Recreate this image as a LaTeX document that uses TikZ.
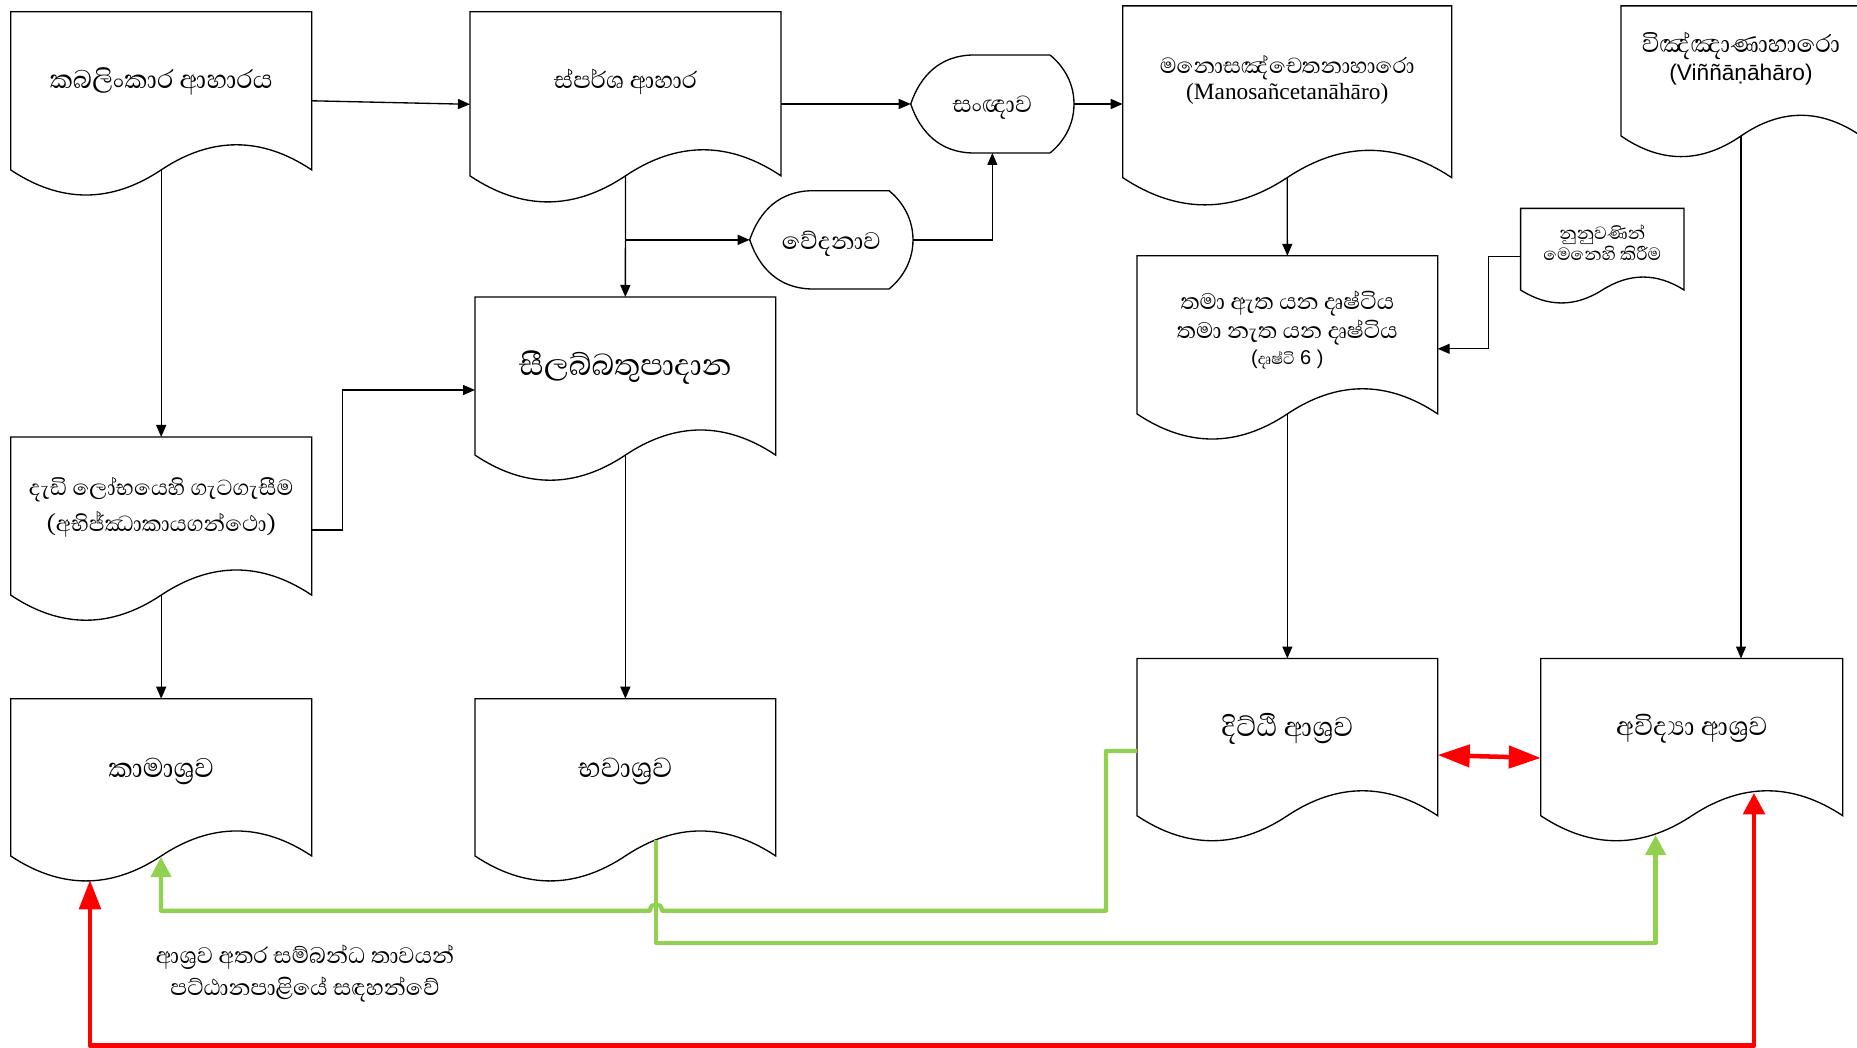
\documentclass[tikz,border=0pt]{standalone}
\usepackage{fontspec}
\usetikzlibrary{arrows.meta,calc}
\newfontfamily\sinf[Script=Sinhala]{Abhaya Libre}
\newfontfamily\lsans{Liberation Sans}
\newfontfamily\lserif{Liberation Serif}
\definecolor{grn}{HTML}{92D050}
\definecolor{rd}{HTML}{FF0000}
\newcommand\fs[2]{\fontsize{#1}{#2}\selectfont}
\tikzset{
  docline/.style={draw=black, line width=1pt, fill=white},
  geom/.style={draw=none, inner sep=0pt, outer sep=0pt},
  lbl/.style={align=center, inner sep=0pt},
  conn/.style={draw=black, line width=1pt, -{Triangle[length=9pt,width=7.5pt]}},
  gline/.style={draw=grn, line width=3.2pt, line join=round, -{Triangle[length=15pt,width=15pt]}},
  rline/.style={draw=rd, line width=3.4pt, line join=round},
}
% name, left, top, width, height, text offset, font, text
\newcommand\docbox[8]{%
  \node[geom, minimum width=#4*0.75pt, minimum height=#5*0.75pt] (#1) at ({#2+#4/2},{#3+#5/2}) {};
  \coordinate (#1-w) at ({#2+#4/2},{#3+0.85*#5});
  \path[docline] (#2,#3) -- ({#2+#4},#3) -- ({#2+#4},{#3+0.85*#5})
     .. controls ({#2+0.8333*#4},{#3+0.67*#5}) and ({#2+0.6667*#4},{#3+0.67*#5}) .. ({#2+0.5*#4},{#3+0.85*#5})
     .. controls ({#2+0.3333*#4},{#3+1.03*#5}) and ({#2+0.1667*#4},{#3+1.03*#5}) .. (#2,{#3+0.85*#5}) -- cycle;
  \node[lbl, font=#7] (#1-t) at ({#2+#4/2},{#3+#6}) {#8};
}
% name, L, T, R, B, font, text
\newcommand\dispbox[7]{%
  \node[geom, minimum width=(#4-#2)*0.75pt, minimum height=(#5-#3)*0.75pt] (#1) at ({(#2+#4)/2},{(#3+#5)/2}) {};
  \path[docline] ({#2+61},#3) -- ({#4-24},#3)
     .. controls ({#4-14},{#3+8}) and (#4,{#3+0.25*(#5-#3)}) .. (#4,{(#3+#5)/2})
     .. controls (#4,{#5-0.25*(#5-#3)}) and ({#4-14},{#5-8}) .. ({#4-24},#5)
     -- ({#2+61},#5)
     .. controls ({#2+30},{#5-1}) and ({#2+10},{#5-0.2*(#5-#3)}) .. (#2,{(#3+#5)/2})
     .. controls ({#2+10},{#3+0.2*(#5-#3)}) and ({#2+30},{#3+1}) .. ({#2+61},#3) -- cycle;
  \node[lbl, font=#6] (#1-t) at ({(#2+#4)/2},{(#3+#5)/2+4}) {#7};
}
\begin{document}
\begin{tikzpicture}[x=0.75pt,y=-0.75pt]
\useasboundingbox (0,0) rectangle (1857,1048);
\clip (0,0) rectangle (1857,1048);
\fill[white] (0,0) rectangle (1857,1048);

\docbox{kab}{10.7}{11.8}{301}{186}{69.5}{\sinf\fs{24.5}{28}}{කබලිංකාර ආහාරය}
\docbox{spar}{470}{11.8}{311}{193}{70.5}{\sinf\fs{22.5}{28}}{ස්පර්ශ ආහාර}
\docbox{manos}{1122.7}{5.9}{329}{202}{74}{\sinf\fs{21}{20}}{මනොසඤ්චෙතනාහාරො\\{\lserif\fs{17.5}{20}(Manosañcetanāhāro)}}
\docbox{vinn}{1621}{5.9}{240}{153}{53}{\sinf\fs{23.5}{21}}{විඤ්ඤාණාහාරො\\{\lsans\fs{17}{20}(Viññāṇāhāro)}}
\docbox{thama}{1137}{255.8}{300.7}{186}{74}{\sinf\fs{21.5}{22}}{තමා ඇත යන දෘෂ්ටිය\\තමා නැත යන දෘෂ්ටිය\\[-3pt]{\fs{15}{16}{\lsans(}දෘෂ්ටි{\lsans\ 6 )}}}
\docbox{nuw}{1520.6}{208.4}{163.4}{96}{34}{\sinf\fs{17}{16}}{නුනුවණින්\\මෙනෙහි කිරීම}
\docbox{sil}{475}{297}{300.7}{186}{70.5}{\sinf\fs{29}{30}}{සීලබ්බතුපාදාන}
\docbox{adi}{10.7}{437}{301}{186}{70}{\sinf\fs{21}{27}}{දැඩි ලෝභයෙහි ගැටගැසීම\\(අභිජ්ඣාකායගන්ථො)}
\docbox{kama}{10.7}{698.7}{301}{185}{72.5}{\sinf\fs{26}{28}}{කාමාශ්^^^^200dරව}
\docbox{bhava}{475}{698.7}{300.7}{185}{72.5}{\sinf\fs{26.5}{28}}{භවාශ්^^^^200dරව}
\docbox{dithi}{1137}{658.5}{300.7}{185}{70}{\sinf\fs{26}{28}}{දිට්ඨි ආශ්^^^^200dරව}
\docbox{avid}{1540.8}{658.5}{302}{185}{70}{\sinf\fs{25}{28}}{අවිද්^^^^200dයා ආශ්^^^^200dරව}

\dispbox{sanj}{910.7}{55}{1074}{153}{\sinf\fs{22.5}{24}}{සංඥාව}
\dispbox{ved}{749.7}{190.7}{913}{289}{\sinf\fs{23}{24}}{වේදනාව}

\node[lbl, font=\sinf\fs{21.5}{24}] (note) at (305,974) {ආශ්^^^^200dරව අතර සම්බන්ධ තාවයන්\\පට්ඨානපාළියේ සඳහන්වේ};

% black connectors
\draw[conn] ($(kab.east)+(0,-4)$) -- ($(spar.west)+(0,-4)$);
\draw[conn] (spar.east |- sanj.west) -- (sanj.west);
\draw[conn] (sanj.east) -- (manos.west |- sanj.east);
\draw[conn] (spar-w) -- (sil.north);
\draw[conn] (spar-w |- ved.west) -- (ved.west);
\draw[conn] (ved.east) -| (sanj.south);
\draw[conn] (kab-w) -- (adi.north);
\draw[conn] (adi.east) -- ++(31,0) |- (sil.west);
\draw[conn] (adi-w) -- (kama.north);
\draw[conn] (sil-w) -- (bhava.north);
\draw[conn] (manos-w) -- (thama.north);
\draw[conn] (nuw.west) -- ++(-32,0) |- (thama.east);
\draw[conn] (thama-w) -- (dithi.north);
\draw[conn] (vinn-w) -- (vinn-w |- avid.north);

% green connectors
\coordinate (kama-g) at (161,857);
\coordinate (bhava-g) at (656,840);
\coordinate (avid-g) at (1655.6,835);
\draw[gline] (dithi.west) -- (1106,751) -- (1106,910.7) -- (662,910.7)
   .. controls (662,902) and (650,902) .. (650,910.7) -- (161,910.7) -- (kama-g);
\draw[gline] (bhava-g) -- (656,942.7) -- (1655.6,942.7) -- (avid-g);

% red connectors
\coordinate (kama-r) at (90,880);
\coordinate (avid-r) at (1754,793);
\draw[rline, {Triangle[length=22pt,width=16pt]}-{Triangle[length=16pt,width=16pt]}] (kama-r) -- (90,1045.7) -- (1754,1045.7) -- (avid-r);
\draw[rline, {Triangle[length=24pt,width=16.5pt]}-{Triangle[length=24pt,width=16.5pt]}] ($(dithi.east)+(0,4)$) -- ($(avid.west)+(0,7)$);
\end{tikzpicture}
\end{document}
